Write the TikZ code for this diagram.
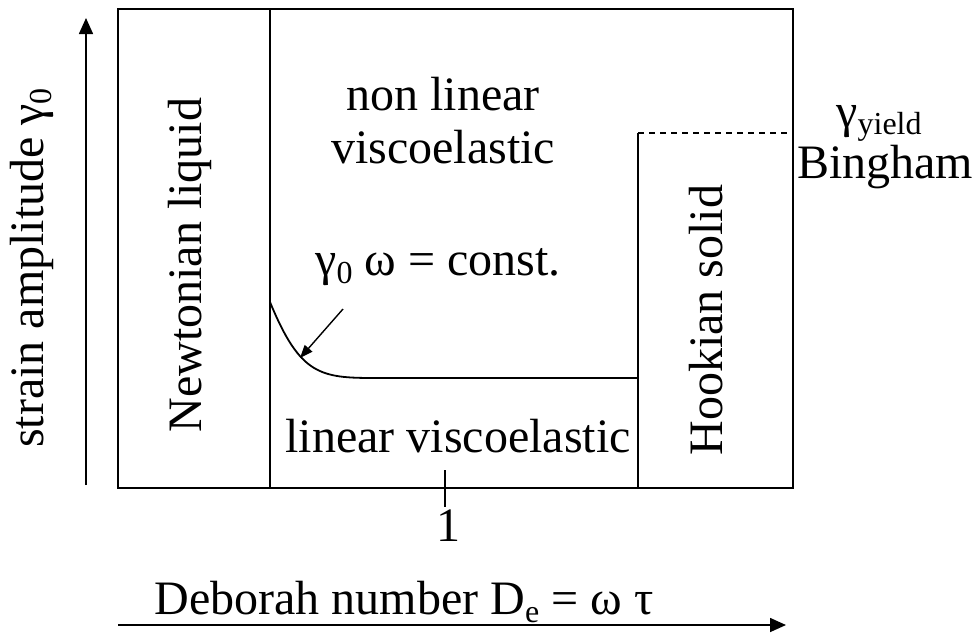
\documentclass[tikz,border=0pt]{standalone}
\usepackage{fontspec}
\setmainfont{Liberation Serif}
\usetikzlibrary{arrows.meta}
\begin{document}
\begin{tikzpicture}[x=1pt,y=-1pt,
  lbl/.style={inner sep=0pt, anchor=base, font=\fontsize{48}{52}\selectfont},
  frame/.style={line width=2.8pt},
  axis/.style={line width=1.6pt, -{Triangle[length=16pt,width=14pt]}},
  pointer/.style={line width=1.4pt, -{Triangle[length=13pt,width=10pt]}}]
\useasboundingbox (0,0) rectangle (974,633);
% boxes
\draw[frame] (118,9) rectangle (793,488);
\draw[frame] (270,9) -- (270,488);
\draw[frame] (638,488) -- (638,133);
\draw[line width=1.4pt, dash pattern=on 6pt off 5pt] (638,133) -- (793,133);
% curve
\coordinate (c0) at (270,302);
\coordinate (c1) at (375,378);
\coordinate (c2) at (638,378);
\draw[line width=1.8pt] (c0) .. controls (300,375) and (320,378) .. (c1) -- (c2);
% tick
\coordinate (t0) at (445,470);
\coordinate (t1) at (445,507);
\draw[line width=1.4pt] (t0) -- (t1);
\node[lbl] (one) at (448,541) {1};
% axes
\coordinate (ya) at (86,485);
\coordinate (yb) at (86,18);
\draw[axis] (ya) -- (yb);
\coordinate (xa) at (118,625);
\coordinate (xb) at (786,625);
\draw[axis] (xa) -- (xb);
% labels
\node[lbl] (nl1) at (443,110) {non linear};
\node[lbl] (nl2) at (443,163) {viscoelastic};
\node[lbl] (gw) at (438,275) {γ\raisebox{-0.18em}{\fontsize{32}{32}\selectfont 0} ω = const.};
\node[lbl] (lin) at (458,452) {linear viscoelastic};
\node[lbl, rotate=90] (newt) at (201,265) {Newtonian liquid};
\node[lbl, rotate=90] (hook) at (722,320) {Hookian solid};
\node[lbl, rotate=90] (strain) at (43,268) {strain amplitude γ\raisebox{-0.18em}{\fontsize{32}{32}\selectfont 0}};
\node[lbl] (gy) at (879,127) {γ\raisebox{-0.15em}{\fontsize{32}{32}\selectfont yield}};
\node[lbl] (bing) at (885,178) {Bingham};
\node[lbl] (deb) at (404,614) {Deborah number D\raisebox{-0.18em}{\fontsize{32}{32}\selectfont e} = ω τ};
% pointer
\coordinate (pt) at (300,358);
\draw[pointer] (343,309) -- (pt);
\end{tikzpicture}
\end{document}
